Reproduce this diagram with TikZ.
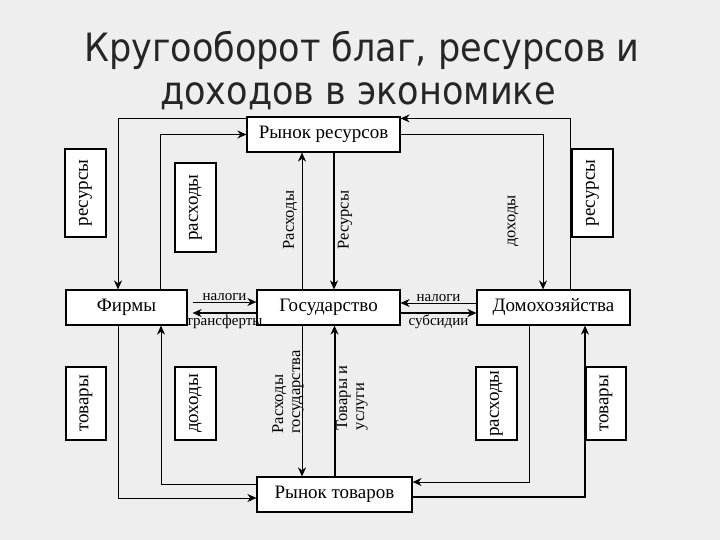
\documentclass[tikz,border=0pt]{standalone}
\usepackage{fontspec}
\setmainfont{Liberation Serif}
\newfontfamily\titlefont{DejaVu Sans Condensed}
\usepackage{tikz}
\usetikzlibrary{arrows.meta, positioning, calc}
\definecolor{slidebg}{RGB}{238,238,238}

\begin{document}
\begin{tikzpicture}[
    x=1pt, y=-1pt,
    titletext/.style={inner sep=0pt, text=black!85, font=\titlefont\fontsize{39}{44}\selectfont},
    market/.style={rectangle, draw=black, fill=white, line width=1.2pt, inner sep=0pt, minimum height=35pt, font=\fontsize{19}{21}\selectfont},
    tagbox/.style={rectangle, draw=black, fill=white, line width=1.1pt, rotate=90, minimum width=88pt, minimum height=41pt, inner sep=0pt, font=\fontsize{19}{21}\selectfont},
    vlabel/.style={rotate=90, align=left, inner sep=0pt, font=\fontsize{16.5}{17}\selectfont},
    small/.style={inner sep=1pt, font=\fontsize{15}{16}\selectfont},
    flow/.style={-{Stealth[length=9pt, width=8pt]}, line width=1pt},
    bigflow/.style={flow, line width=2pt}
]
    % Slide background
    \fill[slidebg] (0,0) rectangle (720,540);
    \useasboundingbox (0,0) rectangle (720,540);

    % Title
    \node[titletext, anchor=base] (title) at (362,62) {Кругооборот благ, ресурсов и};
    \node[titletext, anchor=base] (subtitle) at (358,105) {доходов в экономике};

    % Markets and agents
    \node[market, minimum width=153pt] (resmarket) at (323.5,134.5) {Рынок ресурсов};
    \node[market, minimum width=121pt] (firms) at (126.5,307.5) {Фирмы};
    \node[market, minimum width=143pt] (state) at (328.5,307.5) {Государство};
    \node[market, minimum width=153pt] (homes) at (553.5,307.5) {Домохозяйства};
    \node[market, minimum width=155pt] (goodsmarket) at (334.5,494.5) {Рынок товаров};

    % Boxed flow names
    \node[tagbox] (resleft) at (85.5,193) {ресурсы};
    \node[tagbox, minimum width=89pt] (costleft) at (195.5,207.5) {расходы};
    \node[tagbox] (resright) at (592.5,193) {ресурсы};
    \node[tagbox, minimum width=73pt, minimum height=40pt] (goodsleft) at (86,403.5) {товары};
    \node[tagbox, minimum width=73pt] (incleft) at (195.5,403.5) {доходы};
    \node[tagbox, minimum width=73pt] (costright) at (496.5,403.5) {расходы};
    \node[tagbox, minimum width=73pt, minimum height=40pt] (goodsright) at (606,403.5) {товары};

    % Free flow names
    \node[vlabel] (costs) at (290,220) {Расходы};
    \node[vlabel] (resources) at (345,220) {Ресурсы};
    \node[vlabel] (incomes) at (513,221) {доходы};
    \node[vlabel] (statecosts) at (288,392) {Расходы\\государства};
    \node[vlabel] (goodsserv) at (352,398) {Товары и\\услуги};

    % Resource market flows
    \draw[flow] ([yshift=-2pt]resmarket.north west) -| ([xshift=-8.5pt]firms.north);
    \draw[flow] ([xshift=33.5pt]firms.north) |- (resmarket.west);
    \draw[flow] ([xshift=-26.5pt]state.north) -- ([xshift=-26.5pt]state.north |- resmarket.south);
    \draw[bigflow] ([xshift=10.5pt]resmarket.south) -- ([xshift=10.5pt]resmarket.south |- state.north);
    \draw[flow] (resmarket.east) -| ([xshift=-10.5pt]homes.north);
    \draw[flow] ([xshift=16.5pt]homes.north) |- ([yshift=-2pt]resmarket.north east);

    % Taxes, transfers, subsidies
    \draw[flow] ([xshift=5pt, yshift=5.5pt]firms.east) -- node[small, above] {налоги} ([yshift=5.5pt]state.west);
    \draw[bigflow] ([yshift=-5.5pt]state.west) -- node[small, below] {трансферты} ([xshift=5pt, yshift=-5.5pt]firms.east);
    \draw[flow] ([yshift=4.5pt]homes.west) -- node[small, above] {налоги} ([yshift=4.5pt]state.east);
    \draw[bigflow] ([yshift=-5.5pt]state.east) -- node[small, below] {субсидии} ([yshift=-5.5pt]homes.west);

    % Goods market flows
    \draw[flow] ([xshift=-8.5pt]firms.south) |- ([yshift=-3.5pt]goodsmarket.west);
    \draw[flow] ([yshift=10.5pt]goodsmarket.west) -| ([xshift=34.5pt]firms.south);
    \draw[flow] ([xshift=-26.5pt]state.south) -- ([xshift=-26.5pt]state.south |- goodsmarket.north);
    \draw[bigflow] (goodsmarket.north) -- (goodsmarket.north |- state.south);
    \draw[flow] ([xshift=-24.5pt]homes.south) |- ([yshift=12.5pt]goodsmarket.east);
    \draw[bigflow] ([yshift=-2.5pt]goodsmarket.east) -| ([xshift=31.5pt]homes.south);
\end{tikzpicture}
\end{document}
